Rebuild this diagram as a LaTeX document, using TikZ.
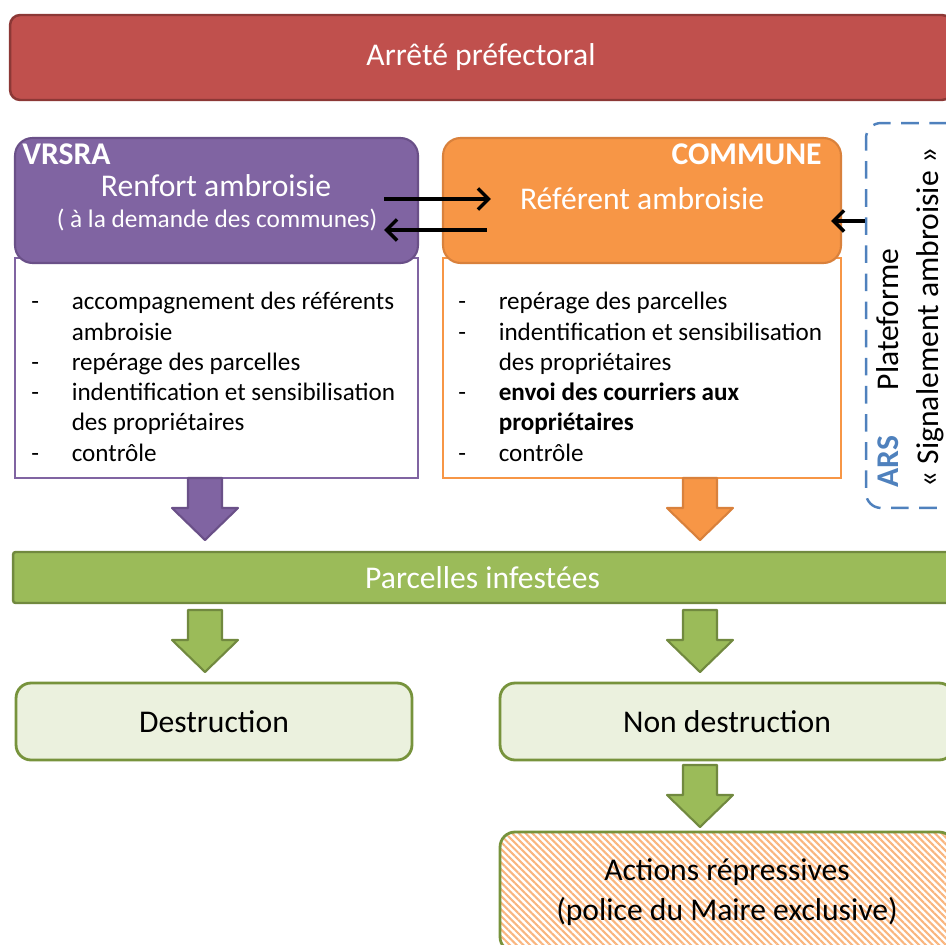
\documentclass[tikz,border=0pt]{standalone}
\usepackage{fontspec}
\setmainfont{Carlito}
\usetikzlibrary{positioning, arrows.meta, patterns.meta}

\definecolor{redfill}{HTML}{C0504D}
\definecolor{redline}{HTML}{8C3836}
\definecolor{vfill}{HTML}{8064A2}
\definecolor{vline}{HTML}{6A5088}
\definecolor{cfill}{HTML}{F79646}
\definecolor{cline}{HTML}{D9813C}
\definecolor{gfill}{HTML}{9BBB59}
\definecolor{gline}{HTML}{71893F}
\definecolor{gpale}{HTML}{EBF1DE}
\definecolor{gbox}{HTML}{77933C}
\definecolor{arsblue}{HTML}{4F81BD}

\tikzstyle{banner} = [rectangle, rounded corners=0.2cm, text=white, line width=1.4pt, inner sep=0pt, font=\fontsize{18}{22}\selectfont]
\tikzstyle{header} = [rectangle, rounded corners=0.35cm, line width=1.2pt, inner sep=0pt]
\tikzstyle{listbox} = [rectangle, fill=white, line width=1.4pt, inner sep=0pt]
\tikzstyle{result} = [rectangle, rounded corners=0.3cm, draw=gbox, line width=1.6pt, inner sep=0pt, align=center, font=\fontsize{18}{22.7}\selectfont]
\tikzstyle{htext} = [text=white, inner sep=0pt]
\tikzstyle{items} = [inner sep=0pt, font=\fontsize{14.3}{17.2}\selectfont]
\tikzset{conn/.style={draw=black, line width=2pt, -{Straight Barb[length=6pt, width=12pt]}}}

% big block arrow pointing down: fill, line, x, top y
\newcommand{\blockdown}[4]{%
  \filldraw[fill=#1, draw=#2, line width=1.2pt, line join=round]
    (#3-17,#4) -- (#3+17,#4) -- (#3+17,#4+30) -- (#3+33,#4+30)
    -- (#3,#4+62) -- (#3-33,#4+30) -- (#3-17,#4+30) -- cycle;}

\begin{document}
\begin{tikzpicture}[x=0.02cm, y=-0.02cm]
    \useasboundingbox (0,0) rectangle (946,945);
    \clip (0,0) rectangle (946,945);

    \node[banner, fill=redfill, draw=redline, minimum width=18.84cm, minimum height=1.7cm] (arrete) at (481,57.5) {Arrêté préfectoral};

    % VRSRA
    \node[listbox, draw=vfill, minimum width=8.06cm, minimum height=4.4cm] (listv) at (216.5,368) {};
    \node[header, fill=vfill, draw=vline, minimum width=8.06cm, minimum height=2.5cm] (vrs) at (216.5,200.5) {};
    \node[htext, anchor=base west, font=\fontsize{18}{22}\selectfont\bfseries] (vname) at (22,165) {VRSRA};
    \node[htext, anchor=base, font=\fontsize{18}{22}\selectfont] (renfort) at (216,197) {Renfort ambroisie};
    \node[htext, anchor=base, font=\fontsize{14.4}{17}\selectfont] (demande) at (217,228) {( à la demande des communes)};
    \node[items, anchor=base west] (itemsv) at (31,310) {\begin{tabular}[t]{@{}p{23pt}@{}l@{}}
        - & accompagnement des référents\\
          & ambroisie\\
        - & repérage des parcelles\\
        - & indentification et sensibilisation\\
          & des propriétaires\\
        - & contrôle
      \end{tabular}};

    % COMMUNE
    \node[listbox, draw=cfill, minimum width=7.96cm, minimum height=4.4cm] (listc) at (642,368) {};
    \node[header, fill=cfill, draw=cline, minimum width=7.96cm, minimum height=2.5cm] (comm) at (642,200.5) {};
    \node[htext, anchor=base east, font=\fontsize{18}{22}\selectfont\bfseries] (cname) at (822,165) {COMMUNE};
    \node[htext, anchor=base, font=\fontsize{18}{22}\selectfont] (referent) at (642,210) {Référent ambroisie};
    \node[items, anchor=base west] (itemsc) at (458,310) {\begin{tabular}[t]{@{}p{23pt}@{}l@{}}
        - & repérage des parcelles\\
        - & indentification et sensibilisation\\
          & des propriétaires\\
        - & \textbf{envoi des courriers aux}\\
          & \textbf{propriétaires}\\
        - & contrôle
      \end{tabular}};

    % ARS
    \node[rectangle, rounded corners=0.3cm, draw=arsblue, line width=1.4pt, dash pattern=on 10pt off 6pt, minimum width=2.48cm, minimum height=7.7cm] (ars) at (928,315.5) {};
    \node[rotate=90, anchor=west, inner sep=0pt, align=left, font=\fontsize{18}{22.7}\selectfont] (plat) at (910,488) {{\color{arsblue}\bfseries ARS}\hspace*{22pt} Plateforme\\« Signalement ambroisie »};

    \draw[conn, shorten <=-0.7cm, shorten >=-0.98cm] (vrs.east |- 0,199) -- (comm.west |- 0,199);
    \draw[conn, shorten <=-0.9cm, shorten >=-0.7cm] (comm.west |- 0,230) -- (vrs.east |- 0,230);
    \draw[conn, shorten >=-0.22cm] (ars.west |- 0,221) -- (comm.east |- 0,221);

    \blockdown{vfill}{vline}{205}{478}
    \blockdown{cfill}{cline}{700}{478}

    \node[banner, rounded corners=0.05cm, fill=gfill, draw=gline, minimum width=18.78cm, minimum height=1.02cm] (parc) at (482.5,577.5) {Parcelles infestées};

    \blockdown{gfill}{gline}{205}{610}
    \blockdown{gfill}{gline}{700}{610}

    \node[result, fill=gpale, minimum width=7.92cm, minimum height=1.54cm] (destr) at (214,721.5) {Destruction};
    \node[result, fill=gpale, minimum width=9.08cm, minimum height=1.54cm] (nondestr) at (727,721.5) {Non destruction};

    \blockdown{gfill}{gline}{700}{765}

    \node[result, pattern={Lines[angle=-45, distance=2.7pt, line width=1.2pt]}, pattern color=cfill!70, minimum width=9.08cm, minimum height=2.4cm] (actions) at (727,892) {Actions répressives\\(police du Maire exclusive)};
\end{tikzpicture}
\end{document}
